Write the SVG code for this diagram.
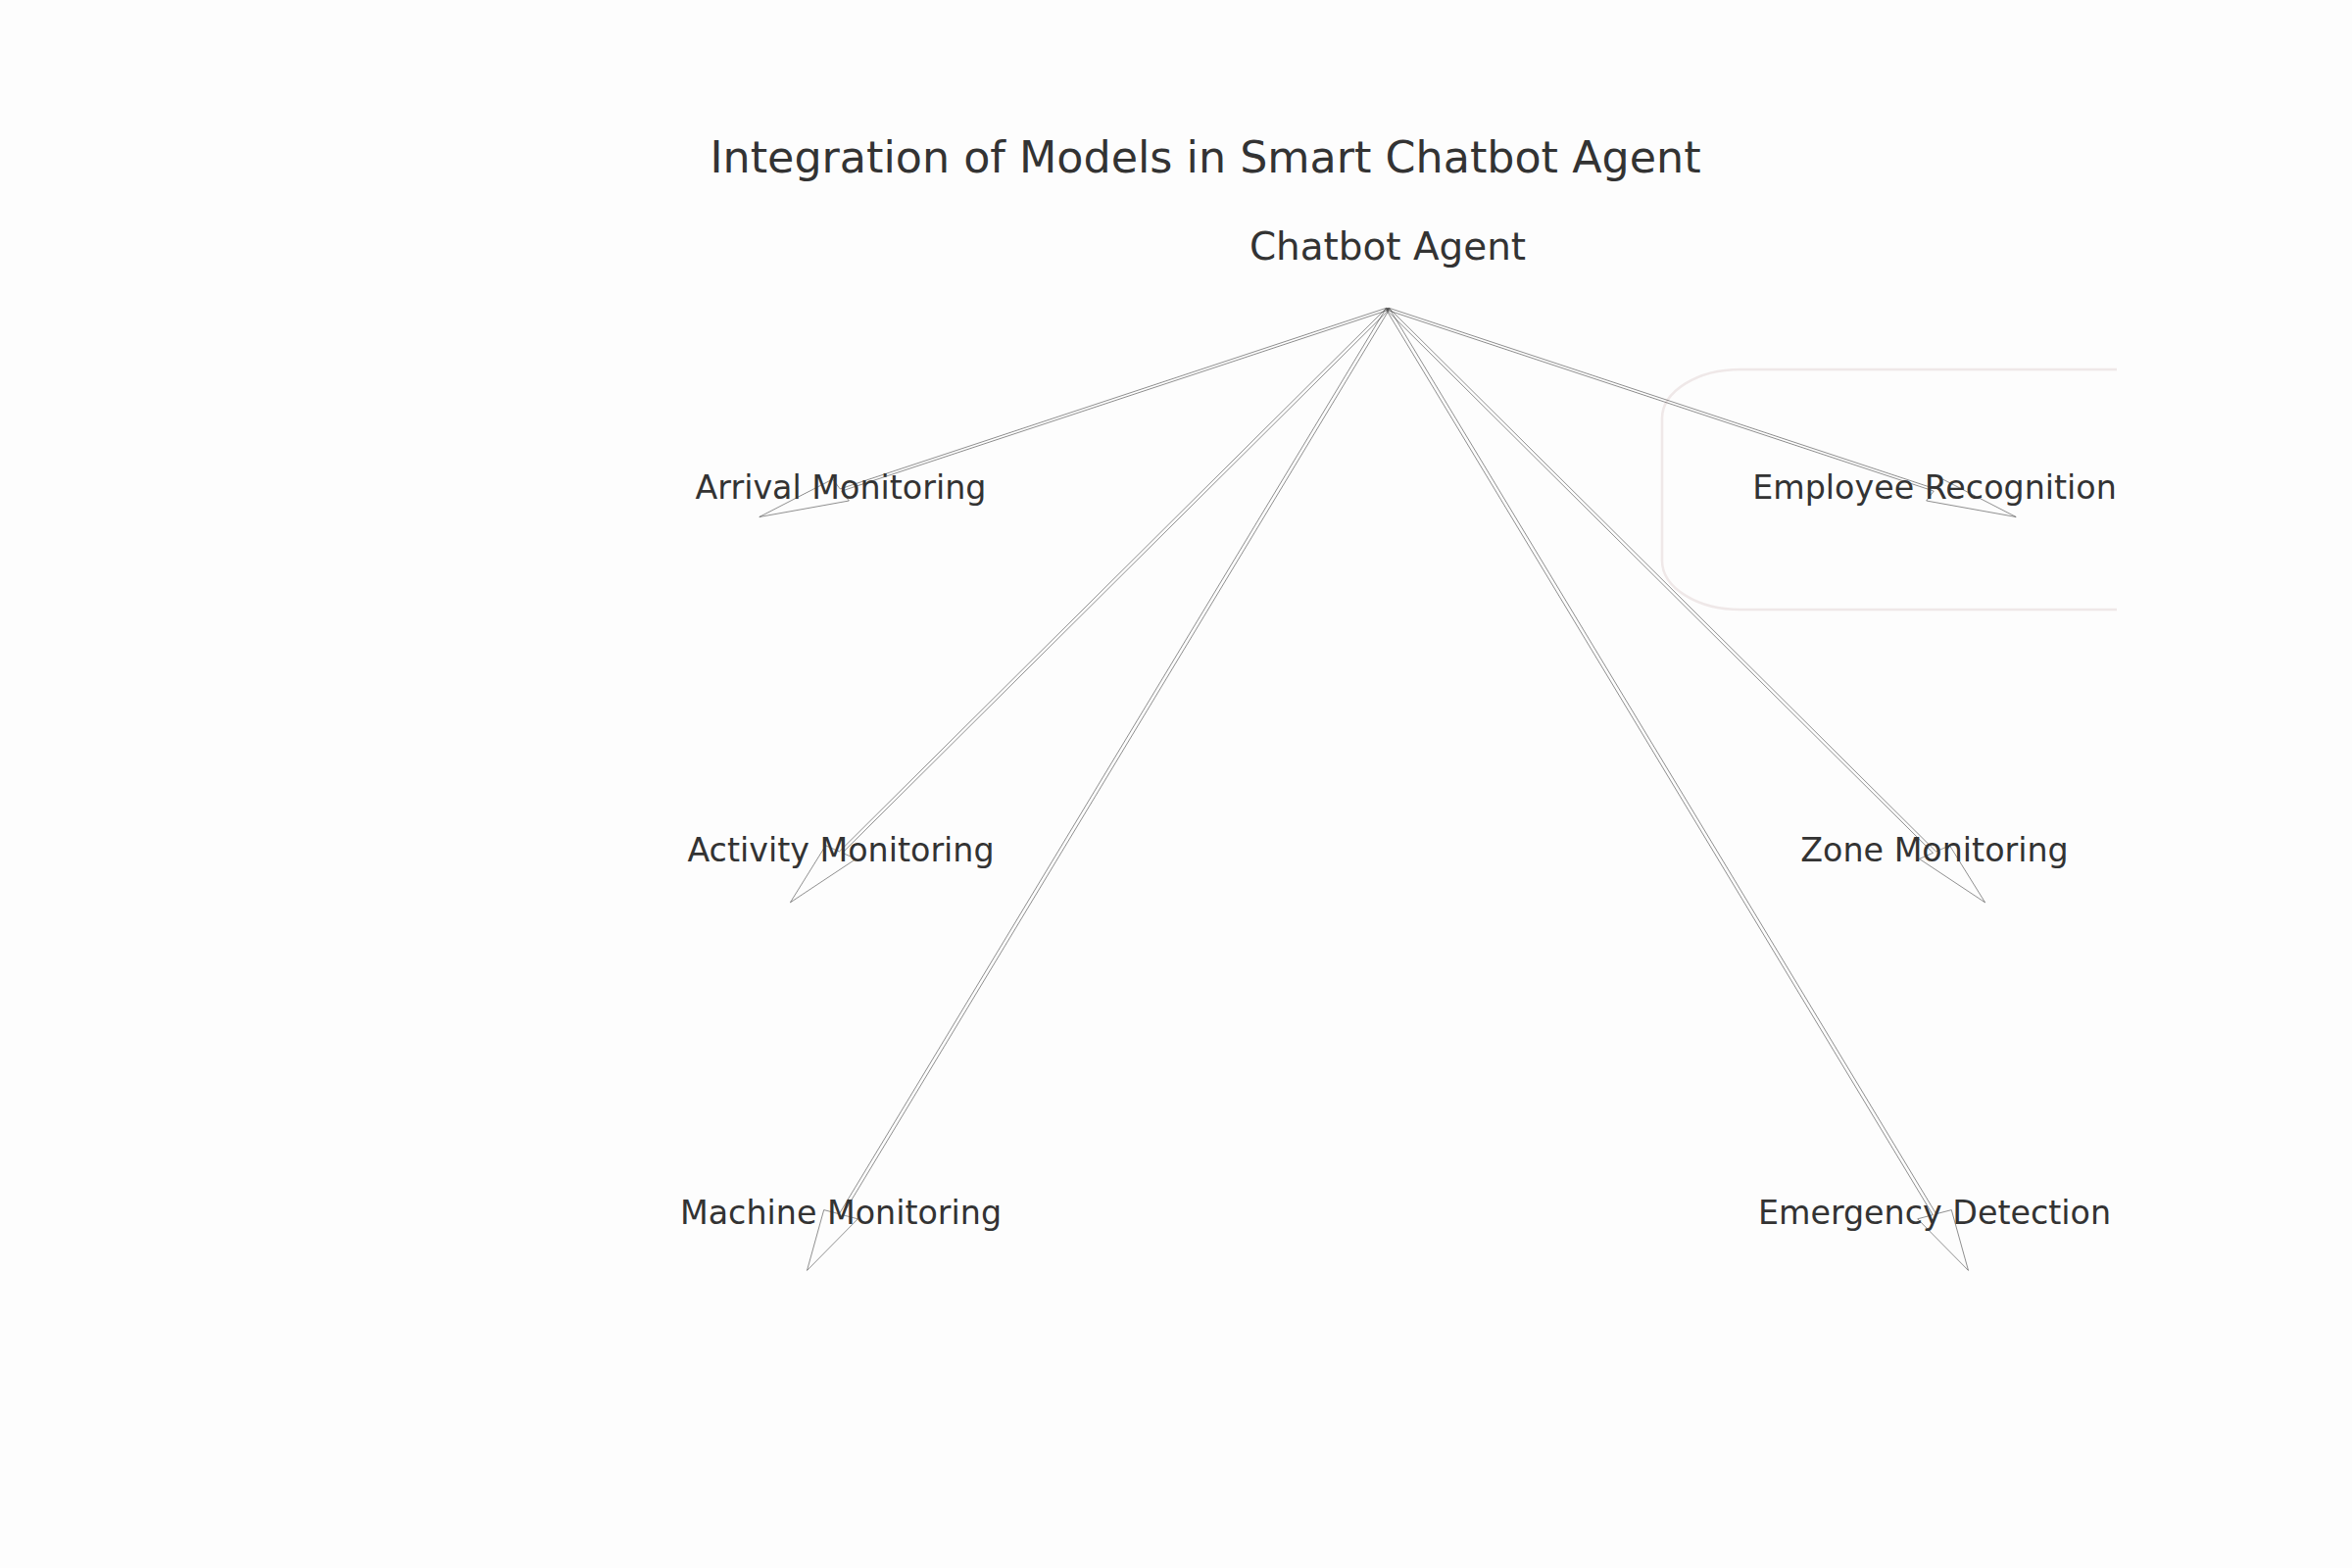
<svg xmlns="http://www.w3.org/2000/svg" width="2400" height="1600" viewBox="0 0 2400 1600">
  <style>
    .title { font-family: "DejaVu Sans", "Liberation Sans", sans-serif; font-size: 44.4px; fill: #333333; text-anchor: middle; }
    .root { font-family: "DejaVu Sans", "Liberation Sans", sans-serif; font-size: 38.9px; fill: #333333; text-anchor: middle; }
    .label { font-family: "DejaVu Sans", "Liberation Sans", sans-serif; font-size: 33.3px; fill: #333333; text-anchor: middle; }
    .arrow { fill: none; stroke: #444444; stroke-width: 0.6; stroke-linejoin: miter; }
    .box { fill: none; stroke: #efe8e8; stroke-width: 2.5; }
  </style>
  <rect x="0" y="0" width="2400" height="1600" fill="#fdfdfd"/>

  <text class="title" x="1230" y="176">Integration of Models in Smart Chatbot Agent</text>

  <g id="highlight-box">
    <path class="box" d="M 2160 377 H 1776 A 80 50 0 0 0 1696 427 V 572 A 80 50 0 0 0 1776 622 H 2160"/>
  </g>

  <g id="connectors">
    <polygon class="arrow" points="774.8,527.5 866.3,511.0 858.8,501.1 1416.8,316.3 1415.2,314.1 857.2,498.9 849.7,489.0"/>
    <polygon class="arrow" points="806.4,920.9 873.5,876.4 859.5,870.3 1417.5,315.9 1414.5,314.5 856.5,868.9 842.5,862.8"/>
    <polygon class="arrow" points="823.5,1296.4 875.3,1243.8 859.7,1239.7 1417.7,315.7 1414.3,314.7 856.3,1238.7 840.7,1234.6"/>
    <polygon class="arrow" points="2057.2,527.5 1982.3,489.0 1974.8,498.9 1416.8,314.1 1415.2,316.3 1973.2,501.1 1965.7,511.0"/>
    <polygon class="arrow" points="2025.6,920.9 1989.5,862.8 1975.5,868.9 1417.5,314.5 1414.5,315.9 1972.5,870.3 1958.5,876.4"/>
    <polygon class="arrow" points="2008.5,1296.4 1991.3,1234.6 1975.7,1238.7 1417.7,314.7 1414.3,315.7 1972.3,1239.7 1956.7,1243.8"/>
  </g>

  <g id="node-chatbot-agent">
    <text class="root" x="1416" y="265">Chatbot Agent</text>
  </g>
  <g id="node-arrival-monitoring">
    <text class="label" x="858" y="508.5">Arrival Monitoring</text>
  </g>
  <g id="node-activity-monitoring">
    <text class="label" x="858" y="878.5">Activity Monitoring</text>
  </g>
  <g id="node-machine-monitoring">
    <text class="label" x="858" y="1248.5">Machine Monitoring</text>
  </g>
  <g id="node-employee-recognition">
    <text class="label" x="1974" y="508.5">Employee Recognition</text>
  </g>
  <g id="node-zone-monitoring">
    <text class="label" x="1974" y="878.5">Zone Monitoring</text>
  </g>
  <g id="node-emergency-detection">
    <text class="label" x="1974" y="1248.5">Emergency Detection</text>
  </g>
</svg>
